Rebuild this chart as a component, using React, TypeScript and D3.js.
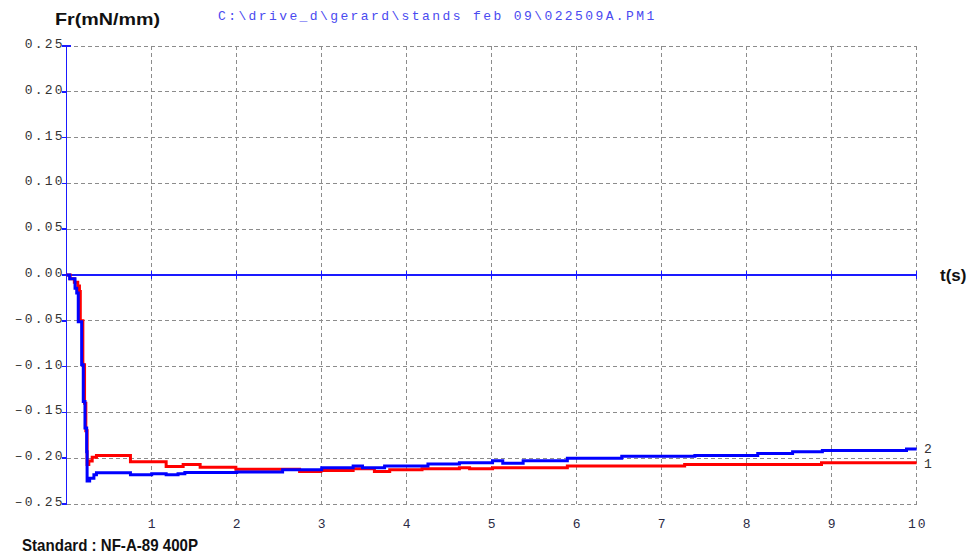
import React from "react";
import * as d3 from "d3";

const yTicks = [0.25, 0.2, 0.15, 0.1, 0.05, 0, -0.05, -0.1, -0.15, -0.2, -0.25];
const xTicks = [1, 2, 3, 4, 5, 6, 7, 8, 9, 10];

// curve 1 (red)
const redT = [0, 0.04, 0.09, 0.13, 0.15, 0.16, 0.19, 0.21, 0.225, 0.24, 0.26, 0.3, 0.35, 0.74, 0.75, 1.17, 1.37, 1.47, 1.57, 1.99, 2.74, 2.99, 3.37, 3.62, 3.8, 4.18, 4.62, 4.74, 5.01, 5.89, 7.27, 8.88, 10];
const redV = [0, -0.004, -0.008, -0.012, -0.018, -0.05, -0.098, -0.14, -0.17, -0.207, -0.203, -0.199, -0.197, -0.197, -0.204, -0.209, -0.207, -0.207, -0.21, -0.212, -0.2145, -0.2135, -0.2115, -0.2145, -0.2125, -0.2115, -0.2105, -0.2115, -0.2105, -0.2085, -0.207, -0.205, -0.205];

// curve 2 (blue)
const blueT = [0, 0.035, 0.098, 0.118, 0.136, 0.176, 0.195, 0.215, 0.235, 0.24, 0.27, 0.32, 0.35, 0.74, 0.75, 1.0, 1.17, 1.31, 1.39, 2.0, 2.54, 3.0, 3.37, 3.48, 3.74, 4.25, 4.62, 5.01, 5.13, 5.37, 5.89, 6.53, 7.39, 8.13, 8.54, 8.89, 9.88, 10];
const blueV = [0, -0.004, -0.0145, -0.0197, -0.051, -0.098, -0.138, -0.167, -0.193, -0.225, -0.222, -0.218, -0.216, -0.216, -0.218, -0.217, -0.218, -0.217, -0.2155, -0.215, -0.2127, -0.2105, -0.2085, -0.2105, -0.2085, -0.2062, -0.205, -0.2028, -0.2056, -0.2028, -0.2, -0.198, -0.197, -0.1948, -0.193, -0.1916, -0.19, -0.19];

const x = d3.scaleLinear().domain([0, 10]).range([66.7, 916.7]);
const y = d3.scaleLinear().domain([-0.25, 0.25]).range([504, 46]);

const line = d3
  .line<[number, number]>()
  .x(d => x(d[0]))
  .y(d => y(d[1]))
  .curve(d3.curveStepAfter);

const monoFont = "'Liberation Mono', 'DejaVu Sans Mono', monospace";
const boldFont = "Arial, 'Liberation Sans', sans-serif";

export default function App() {
  const red = redT.map((t, i) => [t, redV[i]] as [number, number]);
  const blue = blueT.map((t, i) => [t, blueV[i]] as [number, number]);
  const [x0, x1] = x.range();
  const [yb, yt] = y.range();

  return (
    <svg
      width={971}
      height={554}
      style={{ position: "absolute", left: 0, top: 0, background: "#fff" }}
    >
      {/* grid */}
      <g stroke="#8c8c8c" strokeWidth={1} strokeDasharray="4,3" shapeRendering="crispEdges">
        {yTicks.filter(v => v !== 0).map(v => (
          <line key={"h" + v} x1={x0} x2={x1} y1={y(v)} y2={y(v)} />
        ))}
        {xTicks.map(t => (
          <line key={"v" + t} x1={x(t)} x2={x(t)} y1={yt} y2={yb} />
        ))}
      </g>

      {/* axes */}
      <g stroke="#1a1aff" strokeWidth={1.5} shapeRendering="crispEdges">
        <line x1={x0} x2={x0} y1={yt} y2={yb} />
        <line x1={x0} x2={x1} y1={y(0)} y2={y(0)} />
        <line x1={x0 - 4} x2={x0 + 4} y1={yt} y2={yt} />
        {yTicks.map(v => (
          <line key={"yt" + v} x1={x0 - 5} x2={x0} y1={y(v)} y2={y(v)} />
        ))}
        {xTicks.map(t => (
          <line key={"xt" + t} x1={x(t)} x2={x(t)} y1={y(0) - 4} y2={y(0) + 4} />
        ))}
      </g>

      {/* y tick labels */}
      <g fontFamily={monoFont} fontSize={13} fill="#333" textAnchor="end" letterSpacing={2.2}>
        {yTicks.map(v => (
          <text key={"yl" + v} x={x0 - 2} y={y(v) + 2}>
            {v.toFixed(2).replace("-", "\u2013")}
          </text>
        ))}
      </g>

      {/* x tick labels */}
      <g fontFamily={monoFont} fontSize={13} fill="#2a2a44" textAnchor="middle" letterSpacing={2}>
        {xTicks.map(t => (
          <text key={"xl" + t} x={x(t) + 1} y={528}>
            {t}
          </text>
        ))}
      </g>

      {/* curves */}
      <path d={line(red) ?? ""} fill="none" stroke="#ff0000" strokeWidth={3} />
      <path d={line(blue) ?? ""} fill="none" stroke="#0000ff" strokeWidth={3} />

      <g fontFamily={monoFont} fontSize={13} fill="#333">
        <text x={924} y={453}>2</text>
        <text x={924} y={468}>1</text>
      </g>

      {/* titles */}
      <text x={55} y={25} fontFamily={boldFont} fontWeight="bold" fontSize={17} fill="#111" textLength={105} lengthAdjust="spacingAndGlyphs">
        Fr(mN/mm)
      </text>
      <text x={218} y={20} fontFamily={monoFont} fontSize={13} fill="#4a4af0" letterSpacing={2.4}>
        {"C:\\drive_d\\gerard\\stands feb 09\\022509A.PM1"}
      </text>
      <text x={940} y={281} fontFamily={boldFont} fontWeight="bold" fontSize={17} fill="#111">
        t(s)
      </text>
      <text x={22} y={551} fontFamily={boldFont} fontWeight="bold" fontSize={17} fill="#111" textLength={176} lengthAdjust="spacingAndGlyphs">
        Standard : NF-A-89 400P
      </text>
    </svg>
  );
}
